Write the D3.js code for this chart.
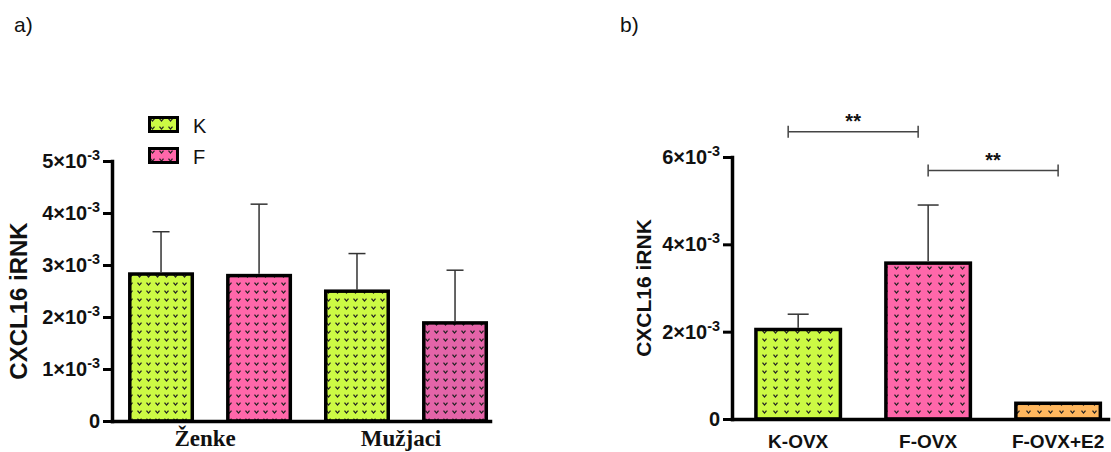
<!DOCTYPE html>
<html>
<head>
<meta charset="utf-8">
<script src="https://cdn.jsdelivr.net/npm/d3@7"></script>
<style>
  body { margin: 0; background: #fff; }
  svg { display: block; font-family: 'Liberation Sans', Arial, sans-serif; }
</style>
</head>
<body>
<svg id="vis" width="1111" height="452"></svg>
<script>
'use strict';

// panel a
var groupsA = ['Ženke', 'Mužjaci'];
var seriesA = ['K', 'F'];
var meanK = [2.86e-3, 2.53e-3];
var errK = [0.78e-3, 0.69e-3];
var meanF = [2.83e-3, 1.92e-3];
var errF = [1.34e-3, 0.98e-3];
var ticksA = [0, 1e-3, 2e-3, 3e-3, 4e-3, 5e-3];

// panel b
var catsB = ['K-OVX', 'F-OVX', 'F-OVX+E2'];
var meanB = [2.09e-3, 3.61e-3, 0.40e-3];
var errB = [0.31e-3, 1.29e-3, 0];
var ticksB = [0, 2e-3, 4e-3, 6e-3];
var sigPairs = [[0, 1], [1, 2]];
var sigLevel = [6.58e-3, 5.69e-3];
var sigText = ['**', '**'];

var GREEN = '#ccfa44', PINK = '#ff67aa', PINK2 = '#e464a8', ORANGE = '#ffb75e';

var svg = d3.select('#vis');
var defs = svg.append('defs');

// dotted "v" fill like the prism pattern
function makePattern(id, color, w, h) {
    var p = defs.append('pattern')
        .attr('id', id)
        .attr('patternUnits', 'userSpaceOnUse')
        .attr('width', w).attr('height', h);
    p.append('rect').attr('width', w).attr('height', h).attr('fill', color);
    p.append('path')
        .attr('d', 'M' + (w / 2 - 2) + ',' + (h / 2 - 1.3) + 'l2,2.4l2,-2.4')
        .attr('fill', 'none').attr('stroke', '#222').attr('stroke-width', 1.3);
    return 'url(#' + id + ')';
}

var patA = {
    green: makePattern('pa-green', GREEN, 9, 8),
    pink: makePattern('pa-pink', PINK, 9, 8),
    pink2: makePattern('pa-pink2', PINK2, 9, 8)
};
var patB = [
    makePattern('pb-green', GREEN, 11, 8),
    makePattern('pb-pink', PINK, 11, 8),
    makePattern('pb-orange', ORANGE, 11, 8)
];

// superscript tick labels: 3×10^-3
function sciTicks(g, size) {
    g.selectAll('.tick text').each(function (d) {
        var t = d3.select(this).text('');
        t.attr('font-size', size).attr('font-weight', 'bold').attr('fill', '#111')
            .attr('font-family', "'Liberation Sans', Arial, sans-serif");
        if (d === 0) { t.text('0'); return; }
        t.append('tspan').text(Math.round(d / 1e-3) + '×10');
        t.append('tspan').attr('dy', '-0.55em').attr('font-size', size * 0.72).text('-3');
    });
}

function styleAxis(g) {
    g.select('.domain').attr('stroke', '#000').attr('stroke-width', 3.5).attr('stroke-linecap', 'square');
    g.selectAll('.tick line').attr('stroke', '#000').attr('stroke-width', 3);
}

function errorBar(g, cx, yTop, yEnd, cap) {
    g.append('line').attr('x1', cx).attr('x2', cx).attr('y1', yTop).attr('y2', yEnd)
        .attr('stroke', '#333').attr('stroke-width', 1.5);
    g.append('line').attr('x1', cx - cap / 2).attr('x2', cx + cap / 2).attr('y1', yEnd).attr('y2', yEnd)
        .attr('stroke', '#333').attr('stroke-width', 1.5);
}

// ---------- panel a ----------
var gA = svg.append('g');

var yA = d3.scaleLinear().domain([0, 5e-3]).range([421, 161]);
var x0 = d3.scaleBand().domain(groupsA).range([112, 490])
    .paddingInner(0.163).paddingOuter(0.046).align(0.89);
var x1 = d3.scaleBand().domain(seriesA).range([0, x0.bandwidth()]).paddingInner(0.327);

var barsA = [];
groupsA.forEach(function (grp, i) {
    barsA.push({ group: grp, series: 'K', mean: meanK[i], err: errK[i], fill: patA.green });
    barsA.push({ group: grp, series: 'F', mean: meanF[i], err: errF[i], fill: i === 0 ? patA.pink : patA.pink2 });
});

barsA.forEach(function (b) {
    var cx = x0(b.group) + x1(b.series) + x1.bandwidth() / 2;
    errorBar(gA, cx, yA(b.mean), yA(b.mean + b.err), 17);
});

gA.selectAll('.bar')
    .data(barsA)
    .enter().append('rect')
    .attr('class', 'bar')
    .attr('x', function (d) { return x0(d.group) + x1(d.series) + 1.75; })
    .attr('y', function (d) { return yA(d.mean) + 1.75; })
    .attr('width', x1.bandwidth() - 3.5)
    .attr('height', function (d) { return yA(0) - yA(d.mean) - 1.75; })
    .attr('fill', function (d) { return d.fill; })
    .attr('stroke', '#000')
    .attr('stroke-width', 3.5);

var axA = gA.append('g')
    .attr('transform', 'translate(112,0)')
    .call(d3.axisLeft(yA).tickValues(ticksA).tickSize(9).tickSizeOuter(0).tickPadding(3));
styleAxis(axA);
sciTicks(axA, 20);

var axAx = gA.append('g')
    .attr('transform', 'translate(0,' + yA(0) + ')')
    .call(d3.axisBottom(x0).tickSize(0).tickSizeOuter(0));
styleAxis(axAx);
axAx.selectAll('.tick text')
    .attr('y', 25).attr('dy', 0).attr('dx', -5)
    .attr('font-family', "'Liberation Serif', 'Times New Roman', serif")
    .attr('font-weight', 'bold').attr('font-size', 23).attr('fill', '#111');

gA.append('text')
    .attr('transform', 'translate(27,301) rotate(-90)')
    .attr('text-anchor', 'middle')
    .attr('font-weight', 'bold').attr('font-size', 24).attr('fill', '#111')
    .text('CXCL16 iRNK');

// legend
var legA = gA.append('g').attr('transform', 'translate(148,116)');
[['K', patA.green], ['F', patA.pink]].forEach(function (item, i) {
    legA.append('rect')
        .attr('x', 1.5).attr('y', i * 31 + 1.5)
        .attr('width', 28).attr('height', 14)
        .attr('fill', item[1]).attr('stroke', '#000').attr('stroke-width', 3);
    legA.append('text')
        .attr('x', 45).attr('y', i * 31 + 17)
        .attr('font-size', 20).attr('fill', '#111')
        .text(item[0]);
});

svg.append('text').attr('x', 14).attr('y', 32).attr('font-size', 21).attr('fill', '#111').text('a)');

// ---------- panel b ----------
var gB = svg.append('g');

var yB = d3.scaleLinear().domain([0, 6e-3]).range([419, 157]);
var xB = d3.scaleBand().domain(catsB).range([732, 1108])
    .paddingInner(0.323).paddingOuter(0.108).align(0.79);

catsB.forEach(function (c, i) {
    if (errB[i] > 0) {
        errorBar(gB, xB(c) + xB.bandwidth() / 2, yB(meanB[i]), yB(meanB[i] + errB[i]), 21);
    }
});

gB.selectAll('.bar')
    .data(catsB)
    .enter().append('rect')
    .attr('class', 'bar')
    .attr('x', function (d) { return xB(d) + 1.75; })
    .attr('y', function (d, i) { return yB(meanB[i]) + 1.75; })
    .attr('width', xB.bandwidth() - 3.5)
    .attr('height', function (d, i) { return yB(0) - yB(meanB[i]) - 1.75; })
    .attr('fill', function (d, i) { return patB[i]; })
    .attr('stroke', '#000')
    .attr('stroke-width', 3.5);

var axB = gB.append('g')
    .attr('transform', 'translate(732,0)')
    .call(d3.axisLeft(yB).tickValues(ticksB).tickSize(9).tickSizeOuter(0).tickPadding(3));
styleAxis(axB);
sciTicks(axB, 20);

var axBx = gB.append('g')
    .attr('transform', 'translate(0,' + yB(0) + ')')
    .call(d3.axisBottom(xB).tickSize(0).tickSizeOuter(0));
styleAxis(axBx);
axBx.selectAll('.tick text')
    .attr('y', 29).attr('dy', 0)
    .attr('font-weight', 'bold').attr('font-size', 19).attr('fill', '#111');

gB.append('text')
    .attr('transform', 'translate(651,288) rotate(-90)')
    .attr('text-anchor', 'middle')
    .attr('font-weight', 'bold').attr('font-size', 21).attr('fill', '#111')
    .text('CXCL16 iRNK');

// significance brackets
sigPairs.forEach(function (pair, i) {
    var shift = i === 0 ? -10 : 0;
    var xa = xB(catsB[pair[0]]) + xB.bandwidth() / 2 + shift;
    var xb = xB(catsB[pair[1]]) + xB.bandwidth() / 2 + shift;
    var yy = yB(sigLevel[i]);
    var br = gB.append('g').attr('stroke', '#444').attr('stroke-width', 1.5);
    br.append('line').attr('x1', xa).attr('x2', xb).attr('y1', yy).attr('y2', yy);
    br.append('line').attr('x1', xa).attr('x2', xa).attr('y1', yy - 6).attr('y2', yy + 6);
    br.append('line').attr('x1', xb).attr('x2', xb).attr('y1', yy - 6).attr('y2', yy + 6);
    gB.append('text')
        .attr('x', (xa + xb) / 2).attr('y', yy - 4)
        .attr('text-anchor', 'middle')
        .attr('font-weight', 'bold').attr('font-size', 20).attr('fill', '#111')
        .text(sigText[i]);
});

svg.append('text').attr('x', 620).attr('y', 32).attr('font-size', 21).attr('fill', '#111').text('b)');
</script>
</body>
</html>
